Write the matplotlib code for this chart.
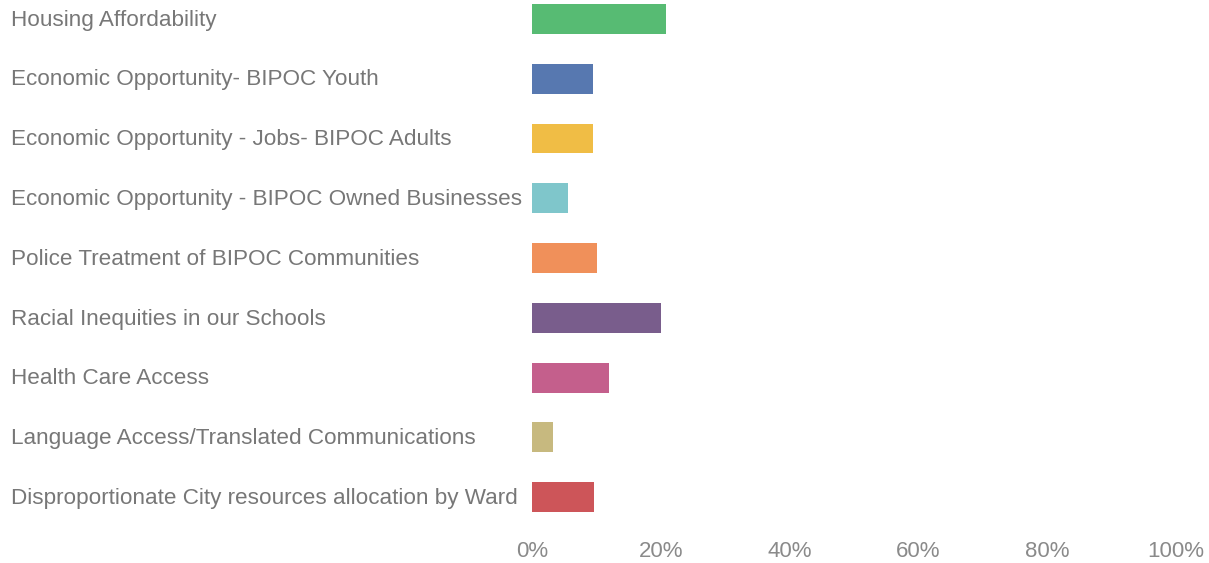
import numpy as np
import matplotlib.pyplot as plt
from matplotlib.transforms import blended_transform_factory

categories = ["Housing Affordability",
              "Economic Opportunity- BIPOC Youth",
              "Economic Opportunity - Jobs- BIPOC Adults",
              "Economic Opportunity - BIPOC Owned Businesses",
              "Police Treatment of BIPOC Communities",
              "Racial Inequities in our Schools",
              "Health Care Access",
              "Language Access/Translated Communications",
              "Disproportionate City resources allocation by Ward"]
values = [20.8, 9.5, 9.5, 5.6, 10.1, 20.0, 11.9, 3.3, 9.7]
colors = ["#57BB73", "#5778B0", "#F0BD45", "#7FC6CB", "#F0905A",
          "#795D8C", "#C45F8C", "#C7B97F", "#CD5559"]
ticks = [0, 20, 40, 60, 80, 100]
tick_labels = ["0%", "20%", "40%", "60%", "80%", "100%"]

plt.rcParams['font.family'] = ['Liberation Sans', 'DejaVu Sans']

fig = plt.figure(figsize=(12.09, 5.63), dpi=100)
ax = fig.add_axes([532/1209, 36/563, (1176-532)/1209, 527/563])

y = np.arange(len(categories))
ax.barh(y, values, height=0.5, color=colors)

ax.set_xlim(0, 100)
ax.set_ylim(8.5, -0.318)
ax.set_xticks(ticks)
ax.set_xticklabels(tick_labels, fontsize=16, color="#8a8a8a")
ax.set_yticks([])
ax.tick_params(axis='x', length=0, pad=10)
for s in ax.spines.values():
    s.set_visible(False)

tr = blended_transform_factory(fig.transFigure, ax.transData)
for i, c in enumerate(categories):
    ax.text(11/1209, i + 0.02, c, transform=tr, ha='left', va='center',
            fontsize=16.2, color="#777777")

fig.savefig("out.png", dpi=100)
